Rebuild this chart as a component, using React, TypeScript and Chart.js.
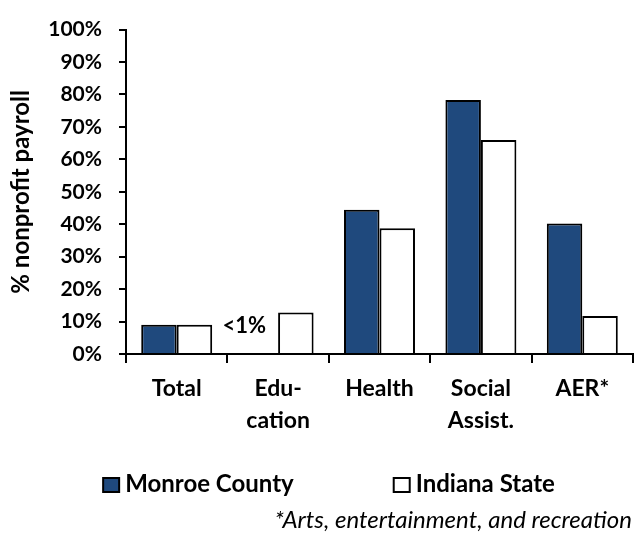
import React, { useEffect, useRef } from "react";
import { Chart, registerables } from "chart.js";

Chart.register(...registerables);

const categories: (string | string[])[] = ["Total", ["Edu-", "cation"], "Health", ["Social", "Assist."], "AER*"];
const monroeCounty = [9, 0, 44.5, 78.3, 40.2];
const indianaState = [9, 12.8, 38.8, 66, 11.7];
const seriesLabels = ["Monroe County", "Indiana State"];
const seriesColors = ["#1f497d", "#ffffff"];
const smallValueLabel = "<1%";
const footnote = "*Arts, entertainment, and recreation";
const yTitle = "% nonprofit payroll";

const FONT = "Lato, 'Open Sans', sans-serif";

const extrasPlugin = {
  id: "extras",
  afterDraw(chart: any) {
    const ctx = chart.ctx;
    ctx.save();
    // "<1%" label for Monroe Education
    const meta = chart.getDatasetMeta(0);
    const el = meta.data[1];
    ctx.fillStyle = "#000";
    ctx.font = `bold 22px ${FONT}`;
    ctx.textAlign = "center";
    ctx.textBaseline = "alphabetic";
    ctx.fillText(smallValueLabel, el.x - 16, el.y - 21);

    // legend
    ctx.font = `bold 24px ${FONT}`;
    const boxW = 16, boxH = 14, gap = 6, itemGap = 100;
    const widths = chart.data.datasets.map((d: any) => ctx.measureText(d.label).width);
    let total = 0;
    widths.forEach((w: number, i: number) => {
      total += boxW + gap + w + (i > 0 ? itemGap : 0);
    });
    let x = chart.width / 2 + 7 - total / 2;
    const baseY = 492;
    chart.data.datasets.forEach((d: any, i: number) => {
      ctx.fillStyle = d.backgroundColor;
      ctx.strokeStyle = "#000";
      ctx.lineWidth = 2;
      ctx.fillRect(x, baseY - boxH, boxW, boxH);
      ctx.strokeRect(x, baseY - boxH, boxW, boxH);
      ctx.fillStyle = "#000";
      ctx.textAlign = "left";
      ctx.fillText(d.label, x + boxW + gap, baseY);
      x += boxW + gap + widths[i] + itemGap;
    });

    // footnote
    ctx.font = `italic 24px ${FONT}`;
    ctx.textAlign = "right";
    ctx.fillText(footnote, chart.width - 12, 528);
    ctx.restore();
  },
};

export default function App() {
  const ref = useRef<HTMLCanvasElement | null>(null);
  useEffect(() => {
    if (!ref.current) return;
    Chart.defaults.color = "#000";
    Chart.defaults.font.family = FONT;
    const chart = new Chart(ref.current, {
      type: "bar",
      data: {
        labels: categories,
        datasets: [
          {
            label: seriesLabels[0],
            data: monroeCounty,
            backgroundColor: seriesColors[0],
            borderColor: "#000",
            borderWidth: 2,
            categoryPercentage: 0.7,
            barPercentage: 1.0,
          },
          {
            label: seriesLabels[1],
            data: indianaState,
            backgroundColor: seriesColors[1],
            borderColor: "#000",
            borderWidth: 2,
            categoryPercentage: 0.7,
            barPercentage: 1.0,
          },
        ],
      },
      options: {
        animation: false,
        responsive: false,
        maintainAspectRatio: false,
        layout: { padding: { top: 19, right: 11, bottom: 92, left: 0 } },
        plugins: {
          legend: { display: false },
          tooltip: { enabled: false },
          title: { display: false },
        },
        scales: {
          x: {
            grid: {
              display: true,
              drawOnChartArea: false,
              drawTicks: true,
              tickLength: 9,
              color: "#000",
              lineWidth: 2,
              offset: true,
            },
            border: { display: true, color: "#000", width: 2 },
            ticks: {
              font: { family: FONT, size: 23, weight: "bold", lineHeight: 1.39 },
              color: "#000",
              padding: 10,
              maxRotation: 0,
              autoSkip: false,
            },
            afterFit: (scale: any) => {
              scale.height = 100;
            },
          },
          y: {
            min: 0,
            max: 100,
            grid: {
              display: true,
              drawOnChartArea: false,
              drawTicks: true,
              tickLength: 7,
              color: "#000",
              lineWidth: 2,
            },
            border: { display: true, color: "#000", width: 2 },
            ticks: {
              stepSize: 10,
              font: { family: FONT, size: 21, weight: "bold" },
              color: "#000",
              padding: 17,
              callback: (v: any) => `${v}%`,
            },
            title: {
              display: true,
              text: yTitle,
              font: { family: FONT, size: 24, weight: "bold" },
              color: "#000",
              padding: { top: 7, bottom: 0 },
            },
            afterFit: (scale: any) => {
              scale.width = 126;
            },
          },
        },
      },
      plugins: [extrasPlugin],
    });
    return () => chart.destroy();
  }, []);
  return (
    <div style={{ position: "fixed", left: 0, top: 0, width: 644, height: 546, background: "#fff" }}>
      <canvas ref={ref} width={644} height={546} style={{ width: 644, height: 546, display: "block" }} />
    </div>
  );
}
